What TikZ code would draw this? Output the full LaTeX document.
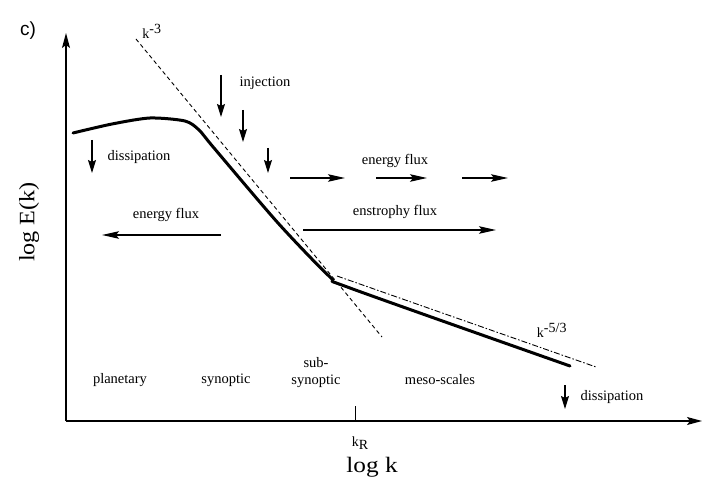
\documentclass[tikz,border=0pt]{standalone}
\usepackage{fontspec}
\setmainfont{Liberation Serif}
\newfontfamily\labsans{Liberation Sans}
\usetikzlibrary{arrows.meta}
\begin{document}
\begin{tikzpicture}[x=1pt,y=-1pt,
  lab/.style={font=\fontsize{14.5}{16}\selectfont, inner sep=0pt},
  flux/.style={line width=1.2pt, -{Stealth[length=17pt,width=7.5pt,inset=3pt]}},
  drop/.style={line width=1.2pt, -{Stealth[length=13pt,width=8pt,inset=2pt]}},
  axis/.style={line width=1.1pt, -{Stealth[length=15pt,width=8pt,inset=3pt]}},
  spec/.style={line width=3pt, line join=round, line cap=round},
  slopeA/.style={line width=0.9pt, dash pattern=on 4pt off 3pt},
  slopeB/.style={line width=0.9pt, dash pattern=on 6pt off 2pt on 1.5pt off 2pt},
]
\useasboundingbox (0,0) rectangle (716,492);
\fill[white] (0,0) rectangle (716,492);

% axes
\coordinate (O) at (66,421);
\coordinate (ytop) at (66,33);
\coordinate (xend) at (702,421);
\draw[axis] (O) -- (ytop);
\draw[axis] (O) -- (xend);
\coordinate (kRtop) at (355,406);
\coordinate (kRbot) at (355,421);
\draw[line width=0.8pt] (kRbot) -- (kRtop);

% panel label and axis titles
\node[inner sep=0pt, font=\labsans\fontsize{19}{20}\selectfont] (panel) at (28,31) {c)};
\node[inner sep=0pt, rotate=90, font=\fontsize{22}{24}\selectfont, xscale=1.1] (ylab) at (29,222) {log E(k)};
\node[inner sep=0pt, font=\fontsize{22}{24}\selectfont, xscale=1.15] (xlab) at (372,467) {log k};
\node[inner sep=0pt, font=\fontsize{14}{15}\selectfont] (kR) at (360,443) {k\raisebox{-0.5ex}{R}};

% reference slopes
\coordinate (dA) at (136,39);
\coordinate (dB) at (382,337);
\draw[slopeA] (dA) -- (dB);
\coordinate (cA) at (337,276);
\coordinate (cB) at (596,367);
\draw[slopeB] (cA) -- (cB);
\node[lab, font=\fontsize{14}{16}\selectfont] (km3) at (152,31) {k$^{\textrm{-3}}$};
\node[lab, font=\fontsize{14}{16}\selectfont] (km53) at (552,330) {k$^{\textrm{-5/3}}$};

% energy spectrum
\draw[spec] plot[smooth, tension=0.45] coordinates {(73,133) (112,124) (150,118) (185,121) (199,130) (214,148) (278,223) (330,277) (350,288) (570,366)};

% injection
\node[lab] (inj) at (265,83) {injection};
\coordinate (i1a) at (221,75);  \coordinate (i1b) at (221,117);
\coordinate (i2a) at (243,110); \coordinate (i2b) at (243,142);
\coordinate (i3a) at (268,148); \coordinate (i3b) at (268,173);
\draw[drop] (i1a) -- (i1b);
\draw[drop] (i2a) -- (i2b);
\draw[drop] (i3a) -- (i3b);

% large-scale dissipation
\coordinate (d1a) at (92,140); \coordinate (d1b) at (92,173);
\draw[drop] (d1a) -- (d1b);
\node[lab] (dis1) at (139,157) {dissipation};

% inverse energy flux
\node[lab] (ef1) at (166,215) {energy flux};
\coordinate (e1a) at (221,235); \coordinate (e1b) at (102,235);
\draw[flux] (e1a) -- (e1b);

% forward energy flux (broken)
\node[lab] (ef2) at (395,161) {energy flux};
\coordinate (f1a) at (290,178); \coordinate (f1b) at (345,178);
\coordinate (f2a) at (376,178); \coordinate (f2b) at (427,178);
\coordinate (f3a) at (462,178); \coordinate (f3b) at (508,178);
\draw[flux] (f1a) -- (f1b);
\draw[flux] (f2a) -- (f2b);
\draw[flux] (f3a) -- (f3b);

% enstrophy flux
\node[lab] (ens) at (395,212) {enstrophy flux};
\coordinate (s1a) at (303,230); \coordinate (s1b) at (496,230);
\draw[flux] (s1a) -- (s1b);

% small-scale dissipation
\coordinate (d2a) at (565,385); \coordinate (d2b) at (565,409);
\draw[drop] (d2a) -- (d2b);
\node[lab] (dis2) at (612,397) {dissipation};

% scale ranges
\node[lab] (plan) at (120,380) {planetary};
\node[lab] (syn) at (226,380) {synoptic};
\node[lab, align=center, font=\fontsize{14.5}{17}\selectfont] (sub) at (316,373) {sub-\\synoptic};
\node[lab] (meso) at (440,380) {meso-scales};
\end{tikzpicture}
\end{document}
